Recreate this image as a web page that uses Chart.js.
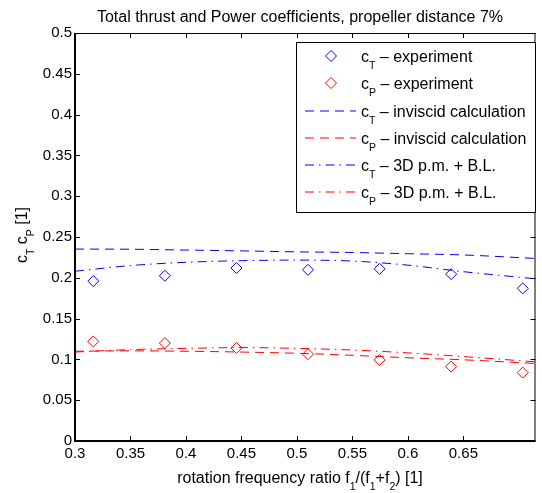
<!DOCTYPE html>
<html>
<head>
<meta charset="utf-8">
<script src="https://cdn.jsdelivr.net/npm/chart.js@4/dist/chart.umd.min.js"></script>
<style>
  html, body { margin: 0; padding: 0; background: #fff; }
  #wrap { width: 542px; height: 493px; }
</style>
</head>
<body>
<div id="wrap"><canvas id="chart" width="542" height="493"></canvas></div>
<script>
// =============================
// DATA
// =============================
const expX  = [0.3165, 0.381, 0.4455, 0.51, 0.5745, 0.639, 0.7035];
const ctExp = [0.196, 0.2025, 0.212, 0.2098, 0.211, 0.2045, 0.187];
const cpExp = [0.122, 0.12, 0.114, 0.1064, 0.0994, 0.0912, 0.0838];

const calcX = [0.3, 0.35, 0.4, 0.45, 0.5, 0.55, 0.6, 0.65, 0.715];
const ctInv = [0.2352, 0.235, 0.234, 0.233, 0.2318, 0.231, 0.2295, 0.228, 0.2237];
const cpInv = [0.110, 0.1105, 0.110, 0.109, 0.1075, 0.105, 0.102, 0.0995, 0.095];
const ctBL  = [0.208, 0.215, 0.219, 0.221, 0.2217, 0.2205, 0.2155, 0.2075, 0.1988];
const cpBL  = [0.109, 0.112, 0.1135, 0.1145, 0.1135, 0.1115, 0.108, 0.1035, 0.097];

const xTicks = [0.3, 0.35, 0.4, 0.45, 0.5, 0.55, 0.6, 0.65];
const yTicks = [0, 0.05, 0.1, 0.15, 0.2, 0.25, 0.3, 0.35, 0.4, 0.45, 0.5];

// label pieces: [text, subscript?]
const legendLabels = [
  [["c"], ["T", 1], [" \u2013 experiment"]],
  [["c"], ["P", 1], [" \u2013 experiment"]],
  [["c"], ["T", 1], [" \u2013 inviscid calculation"]],
  [["c"], ["P", 1], [" \u2013 inviscid calculation"]],
  [["c"], ["T", 1], [" \u2013 3D p.m. + B.L."]],
  [["c"], ["P", 1], [" \u2013 3D p.m. + B.L."]]
];
const titleText = "Total thrust and Power coefficients, propeller distance 7%";
const xLabel = [["rotation frequency ratio f"], ["1", 1], ["/(f"], ["1", 1], ["+f"], ["2", 1], [") [1]"]];
const yLabel = [["c"], ["T", 1], [" c"], ["P", 1], [" [1]"]];

// =============================
// HELPERS
// =============================
const FAM = "'Liberation Sans', Arial, Helvetica, sans-serif";
const MAIN = "16px " + FAM;
const SUB = "10.5px " + FAM;

function pts(xs, ys) {
  return xs.map((x, i) => ({ x: x, y: ys[i] }));
}

function drawRich(ctx, parts, x, y, align) {
  let w = 0;
  parts.forEach(p => { ctx.font = p[1] ? SUB : MAIN; w += ctx.measureText(p[0]).width; });
  let cx = align === "center" ? x - w / 2 : x;
  parts.forEach(p => {
    ctx.font = p[1] ? SUB : MAIN;
    ctx.fillText(p[0], cx, p[1] ? y + 7 : y);
    cx += ctx.measureText(p[0]).width;
  });
}

// =============================
// PLUGIN: box, ticks, legend, labels
// =============================
const decor = {
  id: "decor",
  afterDraw(chart) {
    const { ctx, chartArea: a, scales: { x, y } } = chart;
    ctx.save();
    ctx.strokeStyle = "#000";
    ctx.setLineDash([]);

    // box
    ctx.lineWidth = 1;
    ctx.beginPath();
    ctx.moveTo(a.left, a.top + 0.5); ctx.lineTo(a.right, a.top + 0.5);
    ctx.moveTo(a.right - 0.5, a.top); ctx.lineTo(a.right - 0.5, a.bottom);
    ctx.stroke();
    ctx.lineWidth = 2;
    ctx.beginPath();
    ctx.moveTo(a.left, a.top); ctx.lineTo(a.left, a.bottom + 1);
    ctx.moveTo(a.left - 1, a.bottom); ctx.lineTo(a.right, a.bottom);
    ctx.stroke();

    // inward ticks
    ctx.lineWidth = 1;
    ctx.beginPath();
    x.ticks.forEach(t => {
      const px = Math.round(x.getPixelForValue(t.value)) + 0.5;
      ctx.moveTo(px, a.bottom); ctx.lineTo(px, a.bottom - 5);
      ctx.moveTo(px, a.top); ctx.lineTo(px, a.top + 5);
    });
    y.ticks.forEach(t => {
      const py = Math.round(y.getPixelForValue(t.value)) + 0.5;
      ctx.moveTo(a.left, py); ctx.lineTo(a.left + 5, py);
      ctx.moveTo(a.right, py); ctx.lineTo(a.right - 5, py);
    });
    ctx.stroke();

    // legend
    const lx = 296, ly = 42, lw = 239, lh = 170;
    ctx.fillStyle = "#fff";
    ctx.fillRect(lx, ly, lw, lh);
    ctx.strokeStyle = "#000";
    ctx.strokeRect(lx + 0.5, ly + 0.5, lw, lh);
    chart.data.datasets.forEach((ds, i) => {
      const ry = Math.round(56 + i * 27.25);
      ctx.strokeStyle = ds.borderColor;
      ctx.lineWidth = 1;
      if (ds.showLine === false) {
        ctx.setLineDash([]);
        ctx.beginPath();
        ctx.moveTo(331 - 5.5, ry); ctx.lineTo(331, ry - 5.5);
        ctx.lineTo(331 + 5.5, ry); ctx.lineTo(331, ry + 5.5);
        ctx.closePath();
        ctx.stroke();
      } else {
        ctx.setLineDash(ds.borderDash);
        ctx.beginPath();
        ctx.moveTo(305, ry); ctx.lineTo(356, ry);
        ctx.stroke();
      }
      ctx.setLineDash([]);
      ctx.fillStyle = "#000";
      ctx.textBaseline = "alphabetic";
      drawRich(ctx, legendLabels[i], 361, ry + 6, "left");
    });

    // title and axis labels
    ctx.fillStyle = "#000";
    ctx.textBaseline = "alphabetic";
    drawRich(ctx, [[titleText]], 300, 21.5, "center");
    drawRich(ctx, xLabel, 300, 483, "center");
    ctx.save();
    ctx.translate(27, 235);
    ctx.rotate(-Math.PI / 2);
    drawRich(ctx, yLabel, 0, 0, "center");
    ctx.restore();

    ctx.restore();
  }
};

// =============================
// CHART
// =============================
new Chart(document.getElementById("chart"), {
  type: "scatter",
  data: {
    datasets: [
      {
        data: pts(expX, ctExp), showLine: false,
        pointStyle: "rectRot", pointRadius: 5.5, pointBorderWidth: 1,
        borderColor: "#0000ff", backgroundColor: "rgba(0,0,0,0)"
      },
      {
        data: pts(expX, cpExp), showLine: false,
        pointStyle: "rectRot", pointRadius: 5.5, pointBorderWidth: 1,
        borderColor: "#ff0000", backgroundColor: "rgba(0,0,0,0)"
      },
      {
        data: pts(calcX, ctInv), showLine: true, pointRadius: 0,
        borderColor: "#0000ff", borderWidth: 1, borderDash: [9, 6],
        cubicInterpolationMode: "monotone"
      },
      {
        data: pts(calcX, cpInv), showLine: true, pointRadius: 0,
        borderColor: "#ff0000", borderWidth: 1, borderDash: [9, 6],
        cubicInterpolationMode: "monotone"
      },
      {
        data: pts(calcX, ctBL), showLine: true, pointRadius: 0,
        borderColor: "#0000ff", borderWidth: 1, borderDash: [9, 5, 1.5, 5],
        cubicInterpolationMode: "monotone"
      },
      {
        data: pts(calcX, cpBL), showLine: true, pointRadius: 0,
        borderColor: "#ff0000", borderWidth: 1, borderDash: [9, 5, 1.5, 5],
        cubicInterpolationMode: "monotone"
      }
    ]
  },
  options: {
    responsive: false,
    animation: false,
    devicePixelRatio: 1,
    layout: { padding: { top: 33, right: 2, left: 0, bottom: 0 } },
    plugins: {
      legend: { display: false },
      title: { display: false },
      tooltip: { enabled: false }
    },
    scales: {
      x: {
        type: "linear", min: 0.3, max: 0.715,
        afterBuildTicks: s => { s.ticks = xTicks.map(v => ({ value: v })); },
        afterFit: s => { s.height = 52; },
        ticks: {
          color: "#000", padding: 4, maxRotation: 0, autoSkip: false,
          font: { family: FAM, size: 15 },
          callback: v => String(v)
        },
        grid: { display: false, drawTicks: false },
        border: { display: false }
      },
      y: {
        type: "linear", min: 0, max: 0.5,
        afterBuildTicks: s => { s.ticks = yTicks.map(v => ({ value: v })); },
        afterFit: s => { s.width = 75; },
        ticks: {
          color: "#000", padding: 3, autoSkip: false,
          font: { family: FAM, size: 15 },
          callback: v => String(v)
        },
        grid: { display: false, drawTicks: false },
        border: { display: false }
      }
    }
  },
  plugins: [decor]
});
</script>
</body>
</html>
